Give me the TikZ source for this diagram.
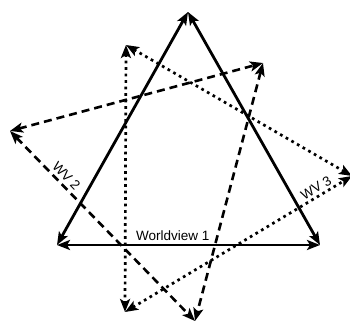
\documentclass[tikz,border=0pt]{standalone}
\usepackage{fontspec}
\setmainfont{Liberation Sans}
\usetikzlibrary{arrows.meta}
\begin{document}
\begin{tikzpicture}[x=1pt,y=-1pt,
  tip/.style={{Stealth[length=13pt,width=10pt,inset=3pt]}-{Stealth[length=13pt,width=10pt,inset=3pt]}},
  wv1/.style={tip,line width=2.8pt},
  wv2/.style={tip,line width=2.6pt,dash pattern=on 8pt off 5pt},
  wv3/.style={tip,line width=2.7pt,dash pattern=on 2.7pt off 3.8pt},
  lab/.style={font=\fontsize{13.5}{15}\selectfont,inner sep=1.5pt}]
\useasboundingbox (0,0) rectangle (350,324);
% Worldview 1 (solid)
\coordinate (S1) at (188,12);
\coordinate (S2) at (57,245);
\coordinate (S3) at (320,245);
% WV 2 (dashed)
\coordinate (D1) at (10,131);
\coordinate (D2) at (263,63);
\coordinate (D3) at (195,321);
% WV 3 (dotted)
\coordinate (T1) at (126,45);
\coordinate (T2) at (125,312);
\coordinate (T3) at (352,176);
\draw[wv3] (T1) -- (T2);
\draw[wv3] (T1) -- (T3);
\draw[wv3] (T2) -- node[lab,sloped,above,inner sep=2pt,pos=0.86] (L3) {WV 3} (T3);
\draw[wv2] (D1) -- (D2);
\draw[wv2] (D1) -- node[lab,sloped,above,inner sep=3pt,pos=0.27] (L2) {WV 2} (D3);
\draw[wv2] (D2) -- (D3);
\draw[wv1] (S1) -- (S2);
\draw[wv1] (S1) -- (S3);
\draw[wv1] (S2) -- node[lab,above,inner sep=2.5pt,pos=0.44] (L1) {Worldview 1} (S3);
\end{tikzpicture}
\end{document}
